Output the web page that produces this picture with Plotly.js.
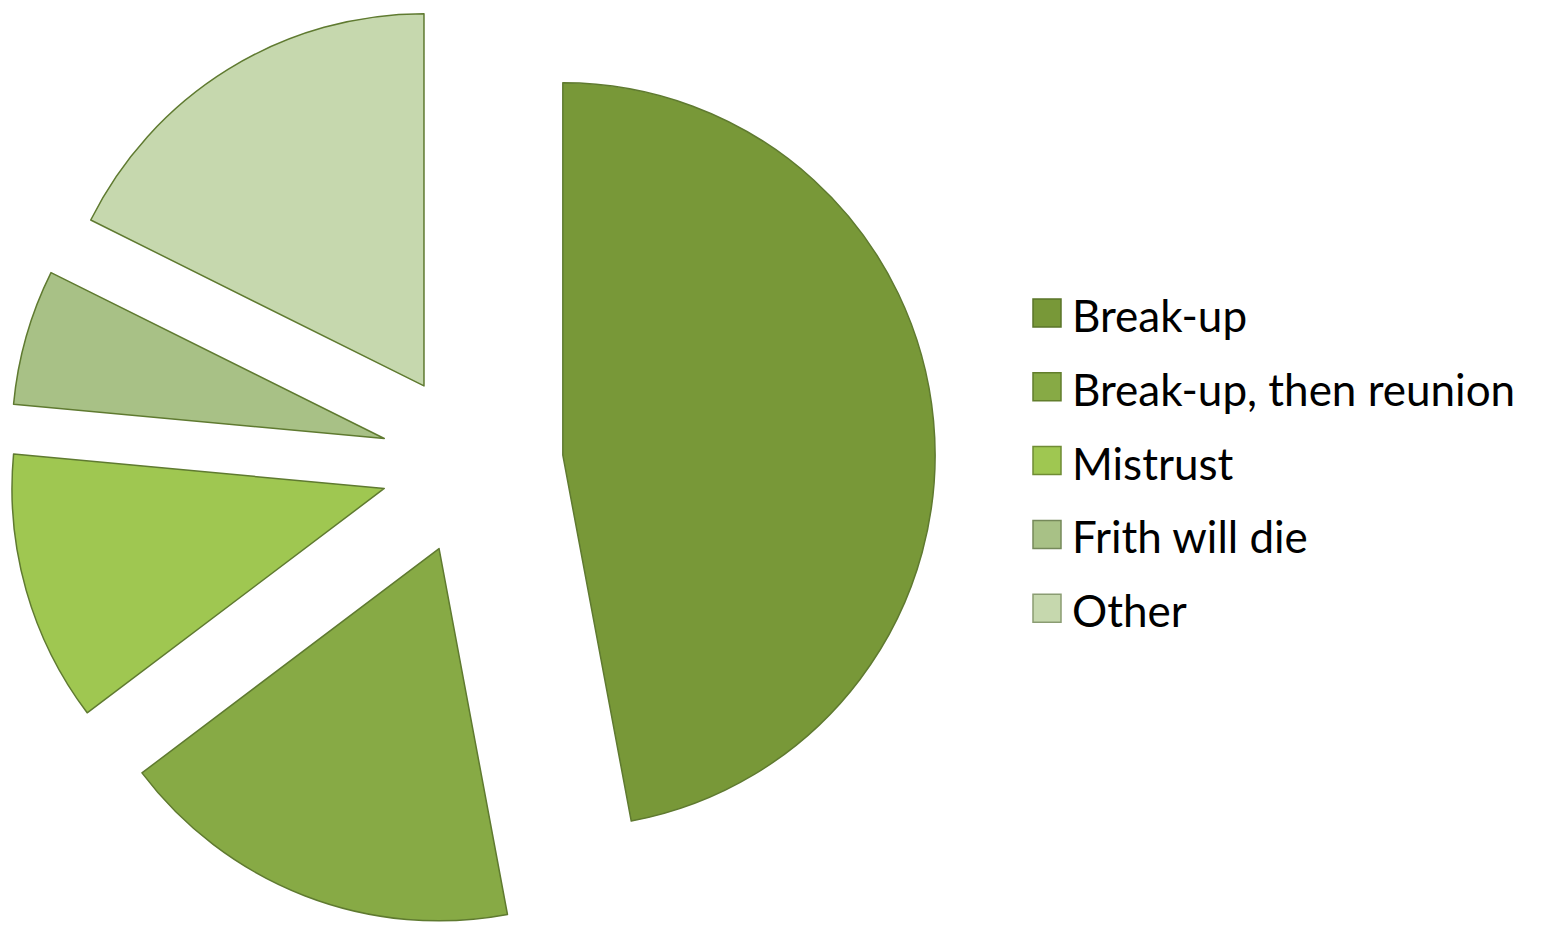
<!DOCTYPE html>
<html>
<head>
<meta charset="utf-8">
<script src="https://cdn.plot.ly/plotly-3.0.1.min.js"></script>
<style>html,body{margin:0;padding:0;background:#fff;}#chart{width:1541px;height:927px;}</style>
</head>
<body>
<div id="chart"></div>
<script>
const categories = ["Break-up", "Break-up, then reunion", "Mistrust", "Frith will die", "Other"];
const values = [8, 3, 2, 1, 3];
const sliceColors = ["#789838", "#87aa45", "#9fc751", "#a8c186", "#c6d8ae"];
const lineColors = ["#5a7428", "#627e2c", "#6f8c34", "#75895a", "#8a9c72"];

const W = 1541, H = 927;
const px = x => x / W;
const py = y => 1 - y / H;

const trace = {
  type: "pie",
  labels: categories,
  values: values,
  sort: false,
  direction: "clockwise",
  rotation: 0,
  pull: categories.map(() => 0.245),
  textinfo: "none",
  hoverinfo: "label+value+percent",
  marker: { colors: sliceColors, line: { color: "#5f7a30", width: 1.5 } },
  domain: { x: [0, px(944)], y: [0, 1] },
  showlegend: false
};

const shapes = [];
const annotations = [];
categories.forEach((c, i) => {
  const cy = 313 + i * 73.8;
  shapes.push({
    type: "rect", xref: "paper", yref: "paper",
    x0: px(1033), x1: px(1061), y0: py(cy + 14), y1: py(cy - 14),
    fillcolor: sliceColors[i], line: { color: lineColors[i], width: 1.5 }
  });
  annotations.push({
    xref: "paper", yref: "paper", x: px(1070), y: py(cy + 2),
    xanchor: "left", yanchor: "middle", showarrow: false,
    text: c, font: { family: "Lato, 'Open Sans', sans-serif", size: 44, color: "#000" }
  });
});

const layout = {
  width: W, height: H,
  margin: { l: 0, r: 0, t: 0, b: 0 },
  paper_bgcolor: "#fff",
  showlegend: false,
  shapes: shapes,
  annotations: annotations
};

Plotly.newPlot("chart", [trace], layout, { displayModeBar: false, staticPlot: false });
</script>
</body>
</html>
